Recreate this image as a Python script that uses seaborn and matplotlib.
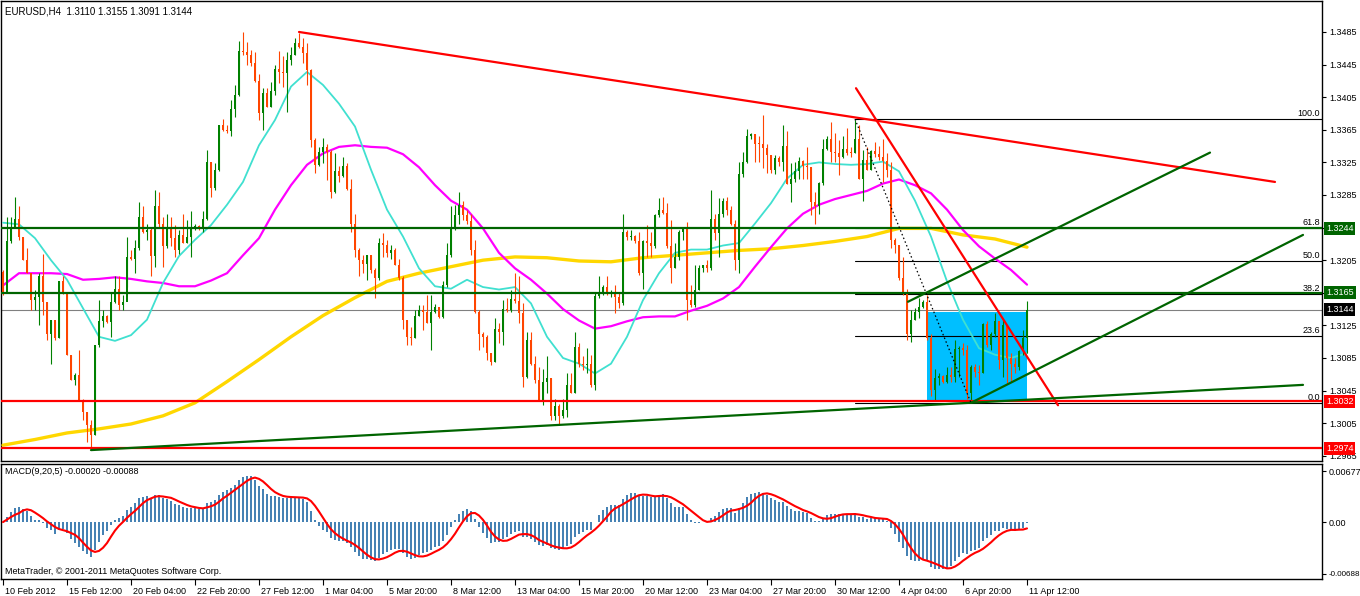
import numpy as np
import pandas as pd
import matplotlib
matplotlib.use("Agg")
import matplotlib.pyplot as plt
from matplotlib.patches import Rectangle
import matplotlib.transforms as mtransforms
import seaborn as sns

sns.set_style("white")
plt.rcParams['font.family'] = ['Liberation Sans', 'DejaVu Sans']

# ---------------- data (EURUSD H4) ----------------
first_open = 1.3191
close = [1.3164,1.3228,1.3246,1.3255,1.3234,1.3205,1.3189,1.3156,1.3160,1.3185,
         1.3154,1.3115,1.3132,1.3109,1.3179,1.3166,1.3089,1.3058,1.3064,1.3033,
         1.3019,1.3003,1.2990,1.3101,1.3130,1.3136,1.3129,1.3154,1.3170,1.3150,
         1.3154,1.3209,1.3206,1.3220,1.3258,1.3239,1.3242,1.3210,1.3271,1.3250,
         1.3222,1.3244,1.3232,1.3218,1.3236,1.3226,1.3234,1.3246,1.3247,1.3244,
         1.3255,1.3326,1.3293,1.3316,1.3371,1.3365,1.3364,1.3390,1.3408,1.3462,
         1.3461,1.3457,1.3447,1.3425,1.3386,1.3410,1.3393,1.3412,1.3440,1.3436,
         1.3435,1.3451,1.3457,1.3472,1.3467,1.3459,1.3438,1.3352,1.3322,1.3338,
         1.3344,1.3338,1.3289,1.3315,1.3308,1.3320,1.3292,1.3250,1.3217,1.3205,
         1.3200,1.3211,1.3193,1.3183,1.3226,1.3224,1.3214,1.3217,1.3199,1.3183,
         1.3132,1.3111,1.3109,1.3136,1.3144,1.3141,1.3128,1.3141,1.3147,1.3135,
         1.3175,1.3211,1.3244,1.3260,1.3273,1.3260,1.3253,1.3217,1.3142,1.3114,
         1.3111,1.3091,1.3080,1.3121,1.3117,1.3145,1.3144,1.3157,1.3155,1.3140,
         1.3062,1.3107,1.3078,1.3058,1.3033,1.3056,1.3060,1.3014,1.3026,1.3014,
         1.3021,1.3052,1.3042,1.3099,1.3078,1.3076,1.3078,1.3052,1.3161,1.3165,
         1.3172,1.3165,1.3166,1.3160,1.3153,1.3240,1.3234,1.3235,1.3228,1.3189,
         1.3229,1.3226,1.3222,1.3260,1.3267,1.3263,1.3222,1.3195,1.3209,1.3240,
         1.3244,1.3156,1.3150,1.3168,1.3196,1.3199,1.3195,1.3255,1.3238,1.3262,
         1.3277,1.3267,1.3250,1.3205,1.3311,1.3326,1.3357,1.3360,1.3348,1.3347,
         1.3343,1.3334,1.3316,1.3330,1.3325,1.3345,1.3299,1.3304,1.3314,1.3327,
         1.3321,1.3319,1.3276,1.3271,1.3300,1.3341,1.3354,1.3338,1.3337,1.3332,
         1.3342,1.3337,1.3336,1.3354,1.3305,1.3328,1.3316,1.3339,1.3335,1.3331,
         1.3327,1.3316,1.3230,1.3224,1.3183,1.3166,1.3115,1.3132,1.3141,1.3148,
         1.3154,1.3109,1.3046,1.3060,1.3063,1.3056,1.3064,1.3062,1.3096,1.3097,
         1.3095,1.3042,1.3074,1.3068,1.3066,1.3127,1.3101,1.3114,1.3130,1.3082,
         1.3125,1.3085,1.3078,1.3074,1.3093,1.3110,1.3144]
high = [1.3193,1.3258,1.3258,1.3282,1.3271,1.3234,1.3220,1.3185,1.3168,1.3189,
        1.3213,1.3154,1.3132,1.3130,1.3179,1.3185,1.3166,1.3089,1.3066,1.3095,
        1.3035,1.3019,1.3009,1.3101,1.3156,1.3144,1.3138,1.3166,1.3185,1.3185,
        1.3162,1.3234,1.3217,1.3230,1.3276,1.3271,1.3250,1.3246,1.3291,1.3289,
        1.3258,1.3262,1.3258,1.3248,1.3242,1.3262,1.3254,1.3265,1.3250,1.3248,
        1.3265,1.3340,1.3326,1.3324,1.3371,1.3378,1.3371,1.3402,1.3420,1.3474,
        1.3485,1.3473,1.3463,1.3461,1.3434,1.3416,1.3416,1.3424,1.3445,1.3462,
        1.3456,1.3461,1.3467,1.3477,1.3484,1.3477,1.3471,1.3440,1.3355,1.3344,
        1.3355,1.3348,1.3340,1.3336,1.3320,1.3332,1.3324,1.3305,1.3262,1.3220,
        1.3211,1.3211,1.3211,1.3195,1.3232,1.3238,1.3230,1.3224,1.3220,1.3207,
        1.3185,1.3132,1.3123,1.3144,1.3150,1.3150,1.3162,1.3162,1.3151,1.3148,
        1.3179,1.3226,1.3271,1.3273,1.3289,1.3277,1.3267,1.3262,1.3230,1.3144,
        1.3117,1.3113,1.3091,1.3134,1.3128,1.3156,1.3158,1.3168,1.3189,1.3185,
        1.3152,1.3117,1.3117,1.3087,1.3074,1.3072,1.3087,1.3060,1.3035,1.3029,
        1.3035,1.3066,1.3066,1.3117,1.3103,1.3087,1.3097,1.3089,1.3166,1.3185,
        1.3175,1.3185,1.3168,1.3175,1.3166,1.3262,1.3242,1.3242,1.3236,1.3240,
        1.3230,1.3248,1.3240,1.3262,1.3281,1.3282,1.3275,1.3254,1.3226,1.3242,
        1.3246,1.3252,1.3175,1.3199,1.3199,1.3199,1.3205,1.3291,1.3262,1.3281,
        1.3281,1.3283,1.3271,1.3254,1.3326,1.3338,1.3366,1.3361,1.3360,1.3357,
        1.3383,1.3348,1.3334,1.3334,1.3333,1.3371,1.3363,1.3324,1.3325,1.3332,
        1.3328,1.3344,1.3319,1.3289,1.3301,1.3354,1.3357,1.3375,1.3361,1.3352,
        1.3357,1.3367,1.3344,1.3377,1.3371,1.3340,1.3344,1.3340,1.3350,1.3345,
        1.3354,1.3336,1.3326,1.3232,1.3224,1.3209,1.3170,1.3144,1.3146,1.3158,
        1.3156,1.3162,1.3115,1.3072,1.3066,1.3064,1.3074,1.3074,1.3107,1.3100,
        1.3103,1.3101,1.3076,1.3078,1.3076,1.3128,1.3130,1.3117,1.3140,1.3130,
        1.3132,1.3111,1.3091,1.3085,1.3095,1.3119,1.3155]
low = [1.3162,1.3201,1.3226,1.3246,1.3230,1.3205,1.3189,1.3144,1.3144,1.3125,
       1.3138,1.3107,1.3078,1.3107,1.3109,1.3164,1.3089,1.3058,1.3052,1.3033,
       1.3009,1.2982,1.2972,1.2990,1.3099,1.3123,1.3128,1.3111,1.3152,1.3144,
       1.3144,1.3172,1.3205,1.3189,1.3217,1.3238,1.3230,1.3185,1.3197,1.3246,
       1.3197,1.3220,1.3222,1.3209,1.3213,1.3226,1.3226,1.3209,1.3242,1.3242,
       1.3240,1.3254,1.3283,1.3291,1.3314,1.3363,1.3361,1.3357,1.3381,1.3406,
       1.3457,1.3445,1.3443,1.3424,1.3377,1.3365,1.3393,1.3393,1.3408,1.3422,
       1.3418,1.3387,1.3445,1.3457,1.3465,1.3447,1.3420,1.3344,1.3312,1.3320,
       1.3324,1.3303,1.3281,1.3287,1.3301,1.3307,1.3291,1.3240,1.3209,1.3185,
       1.3189,1.3181,1.3189,1.3158,1.3181,1.3209,1.3209,1.3207,1.3199,1.3181,
       1.3121,1.3101,1.3101,1.3109,1.3136,1.3119,1.3128,1.3095,1.3140,1.3134,
       1.3134,1.3172,1.3209,1.3242,1.3250,1.3254,1.3250,1.3211,1.3140,1.3095,
       1.3099,1.3082,1.3076,1.3080,1.3103,1.3101,1.3142,1.3142,1.3152,1.3128,
       1.3050,1.3060,1.3076,1.3054,1.3033,1.3027,1.3042,1.3009,1.3009,1.3003,
       1.3011,1.3013,1.3042,1.3042,1.3074,1.3070,1.3066,1.3050,1.3046,1.3158,
       1.3162,1.3162,1.3160,1.3140,1.3146,1.3150,1.3230,1.3230,1.3226,1.3187,
       1.3170,1.3209,1.3209,1.3220,1.3258,1.3262,1.3220,1.3177,1.3195,1.3205,
       1.3230,1.3132,1.3148,1.3148,1.3168,1.3191,1.3191,1.3193,1.3230,1.3209,
       1.3258,1.3260,1.3248,1.3193,1.3189,1.3307,1.3324,1.3354,1.3326,1.3326,
       1.3318,1.3312,1.3312,1.3311,1.3320,1.3314,1.3299,1.3276,1.3301,1.3305,
       1.3305,1.3305,1.3260,1.3250,1.3262,1.3297,1.3340,1.3326,1.3326,1.3310,
       1.3330,1.3334,1.3332,1.3336,1.3305,1.3277,1.3316,1.3316,1.3332,1.3328,
       1.3301,1.3307,1.3220,1.3214,1.3181,1.3162,1.3107,1.3105,1.3132,1.3134,
       1.3146,1.3107,1.3038,1.3033,1.3052,1.3054,1.3054,1.3056,1.3056,1.3062,
       1.3089,1.3035,1.3030,1.3062,1.3052,1.3066,1.3099,1.3095,1.3111,1.3072,
       1.3062,1.3054,1.3056,1.3066,1.3070,1.3089,1.3091]

ma_fast_bars = list(range(0, 257, 4))
ma_fast = [1.3251,1.3249,1.3232,1.3205,1.3181,1.3146,1.3111,1.3106,1.3113,1.3132,
           1.3177,1.3210,1.3230,1.3248,1.3273,1.3301,1.3346,1.3377,1.3418,1.3436,
           1.3420,1.3397,1.3369,1.3316,1.3267,1.3234,1.3195,1.3173,1.3170,1.3181,
           1.3172,1.3169,1.3172,1.3152,1.3111,1.3085,1.3078,1.3066,1.3078,1.3111,
           1.3156,1.3189,1.3214,1.3218,1.3218,1.3223,1.3226,1.3250,1.3275,1.3305,
           1.3322,1.3325,1.3323,1.3322,1.3323,1.3326,1.3314,1.3278,1.3234,1.3179,
           1.3132,1.3097,1.3089,1.3085,1.3091]
ma_mid = [1.3174,1.3189,1.3189,1.3189,1.3188,1.3181,1.3182,1.3184,1.3182,1.3179,
          1.3177,1.3173,1.3173,1.3180,1.3189,1.3211,1.3232,1.3267,1.3297,1.3322,
          1.3336,1.3344,1.3346,1.3344,1.3343,1.3335,1.3319,1.3297,1.3278,1.3267,
          1.3244,1.3214,1.3195,1.3181,1.3164,1.3145,1.3131,1.3121,1.3124,1.3130,
          1.3135,1.3136,1.3136,1.3143,1.3149,1.3158,1.3172,1.3197,1.3221,1.3244,
          1.3262,1.3273,1.3280,1.3285,1.3290,1.3299,1.3304,1.3297,1.3287,1.3267,
          1.3242,1.3222,1.3207,1.3193,1.3175]
ma_slow_bars = list(range(0, 257, 8))
ma_slow = [1.2978,1.2985,1.2993,1.2998,1.3004,1.3014,1.3030,1.3056,1.3083,1.3111,
           1.3137,1.3159,1.3179,1.3189,1.3197,1.3205,1.3209,1.3208,1.3204,1.3203,
           1.3208,1.3211,1.3214,1.3217,1.3219,1.3223,1.3228,1.3234,1.3244,1.3244,
           1.3236,1.3231,1.3221]

# chart objects
hlines_green = [1.3244, 1.3165]
hlines_red = [1.3032, 1.2974]
bid = 1.3144
tags = [(1.3244, '#006400'), (1.3165, '#006400'), (1.3144, '#000000'),
        (1.3032, '#FF0000'), (1.2974, '#FF0000')]
red_trends = [([74, 318], [1.3485, 1.3301]), ([213.25, 263.75], [1.3416, 1.3027])]
green_trends = [([22, 325], [1.2972, 1.3052]), ([242, 325], [1.3030, 1.3236]),
                ([226.25, 301.75], [1.3154, 1.3337])]
fib_levels = [100.0, 61.8, 50.0, 38.2, 23.6, 0.0]
fib_hi, fib_lo = 1.3378, 1.3030
fib_bars = [213, 242]
box_bars = [231, 256]
box_prices = [1.3033, 1.3141]

price_ticks = [1.3485,1.3445,1.3405,1.3365,1.3325,1.3285,1.3245,1.3205,1.3165,
               1.3125,1.3085,1.3045,1.3005,1.2965]
# labels hidden behind the price tags in the reference are left blank
price_ticklabels = ["1.3485","1.3445","1.3405","1.3365","1.3325","1.3285","",
                    "1.3205","","1.3125","1.3085","1.3045","1.3005","1.2965"]
date_ticks = list(range(0, 257, 16))
date_labels = ["10 Feb 2012","15 Feb 12:00","20 Feb 04:00","22 Feb 20:00","27 Feb 12:00",
               "1 Mar 04:00","5 Mar 20:00","8 Mar 12:00","13 Mar 04:00","15 Mar 20:00",
               "20 Mar 12:00","23 Mar 04:00","27 Mar 20:00","30 Mar 12:00","4 Apr 04:00",
               "6 Apr 20:00","11 Apr 12:00"]
macd_ticks = [0.00677, 0.0, -0.00688]
macd_ticklabels = ["0.00677", "0.00", "-0.00688"]

# ---------------- frame ----------------
W, H = 1360, 596
fig = plt.figure(figsize=(W / 100, H / 100), dpi=100)
fig.patch.set_facecolor('white')


def px_axes(x0, y0, x1, y1):
    return fig.add_axes([x0 / W, 1 - y1 / H, (x1 - x0) / W, (y1 - y0) / H])


ax = px_axes(1, 1, 1322, 461)
axm = px_axes(1, 464, 1322, 579)
XLIM = (-0.5, 329.75)

df = pd.DataFrame({'close': close, 'high': high, 'low': low})
df['open'] = df['close'].shift(1).fillna(first_open)
df['bar'] = np.arange(len(df))
bull = df['close'] >= df['open']
col = np.where(bull, '#008000', '#FF4500')

# box
ax.add_patch(Rectangle((box_bars[0], box_prices[0]), box_bars[1] - box_bars[0],
                       box_prices[1] - box_prices[0], facecolor='#00BFFF',
                       edgecolor='none', zorder=1))

# fib
for lv in fib_levels:
    p = fib_lo + lv / 100 * (fib_hi - fib_lo)
    ax.plot([fib_bars[0], XLIM[1]], [p, p], color='black', lw=0.8, zorder=2)
    ax.text(1 - 2 / 1321, p + 0.00012, f"{lv:.1f}", transform=ax.get_yaxis_transform(),
            ha='right', va='bottom', fontsize=6.5, color='black', zorder=6)
ax.plot(fib_bars, [fib_hi, fib_lo], color='black', lw=0.9, ls=(0, (1.2, 2.0)), zorder=6)

# bid line
ax.axhline(bid, color='#808080', lw=0.8, zorder=2)

# moving averages
sns.lineplot(x=ma_slow_bars, y=ma_slow, ax=ax, color='#FFD700', lw=2.4, zorder=3, legend=False)
sns.lineplot(x=ma_fast_bars, y=ma_mid, ax=ax, color='#FF00FF', lw=1.6, zorder=3, legend=False)
sns.lineplot(x=ma_fast_bars, y=ma_fast, ax=ax, color='#40E0D0', lw=1.3, zorder=3, legend=False)

# candles
ax.vlines(df['bar'], df['low'], df['high'], colors=col, lw=0.8, zorder=4)
body_lo = np.minimum(df['open'], df['close'])
body_h = np.maximum(np.abs(df['close'] - df['open']), 0.00012)
ax.bar(df['bar'], body_h, bottom=body_lo, width=0.72, color=col, linewidth=0, zorder=4)

# horizontal lines + trendlines
for p in hlines_green:
    ax.axhline(p, color='#006400', lw=1.6, zorder=5)
for p in hlines_red:
    ax.axhline(p, color='#FF0000', lw=1.6, zorder=5)
for xs, ys in red_trends:
    ax.plot(xs, ys, color='#FF0000', lw=1.6, zorder=5)
for xs, ys in green_trends:
    ax.plot(xs, ys, color='#006400', lw=1.6, zorder=5)

ax.set_xlim(*XLIM)
ax.set_ylim(1.29586, 1.35230)
ax.set_xticks([])
ax.set_yticks(price_ticks)
ax.set_yticklabels(price_ticklabels)
ax.yaxis.tick_right()
ax.tick_params(axis='y', which='both', right=True, left=False, length=3, width=0.8,
               pad=2, labelsize=6.5, colors='black', direction='out')

for p, c in tags:
    ax.text(1 + 4 / 1321, p, f"{p:.4f}", transform=ax.get_yaxis_transform(),
            ha='left', va='center', fontsize=6.5, color='white', zorder=10, clip_on=False,
            bbox=dict(boxstyle='square,pad=0.22', fc=c, ec='none'))

# ---------------- MACD ----------------
cs = pd.Series(close)
macd = cs.ewm(span=9, adjust=False).mean() - cs.ewm(span=20, adjust=False).mean()
signal = macd.rolling(5, min_periods=1).mean()
axm.bar(df['bar'], macd, width=0.6, color='#4682B4', linewidth=0, zorder=2)
sns.lineplot(x=df['bar'], y=signal, ax=axm, color='#FF0000', lw=1.5, zorder=3, legend=False)
axm.set_xlim(*XLIM)
axm.set_ylim(-0.00755, 0.0077)
axm.set_yticks(macd_ticks)
axm.set_yticklabels(macd_ticklabels)
axm.yaxis.tick_right()
axm.tick_params(axis='y', right=True, left=False, length=3, width=0.8, pad=1.5,
                labelsize=6.5, colors='black', direction='out')
for lab in axm.get_yticklabels():
    if lab.get_text().startswith('-'):
        lab.set_fontsize(5.8)
axm.set_xticks(date_ticks)
axm.set_xticklabels(date_labels, ha='left')
axm.tick_params(axis='x', bottom=True, length=4, width=0.8, pad=1.5, labelsize=6.5,
                colors='black', direction='out')
off = mtransforms.ScaledTranslation(2 / 100, 0, fig.dpi_scale_trans)
for lab in axm.get_xticklabels():
    lab.set_transform(lab.get_transform() + off)
axm.set_xlabel('')
axm.set_ylabel('')
ax.set_xlabel('')
ax.set_ylabel('')

for a in (ax, axm):
    for s in a.spines.values():
        s.set_color('black')
        s.set_linewidth(1.0)
    a.set_facecolor('white')

fig.text(5 / W, 1 - 11 / H, "EURUSD,H4  1.3110 1.3155 1.3091 1.3144", ha='left',
         va='center', fontsize=7, color='black')
fig.text(5 / W, 1 - 472 / H, "MACD(9,20,5) -0.00020 -0.00088", ha='left',
         va='center', fontsize=6.5, color='black')
fig.text(5 / W, 1 - 571 / H, "MetaTrader, \u00a9 2001-2011 MetaQuotes Software Corp.",
         ha='left', va='center', fontsize=6.5, color='black')

fig.savefig('out.png', dpi=100, facecolor='white')
